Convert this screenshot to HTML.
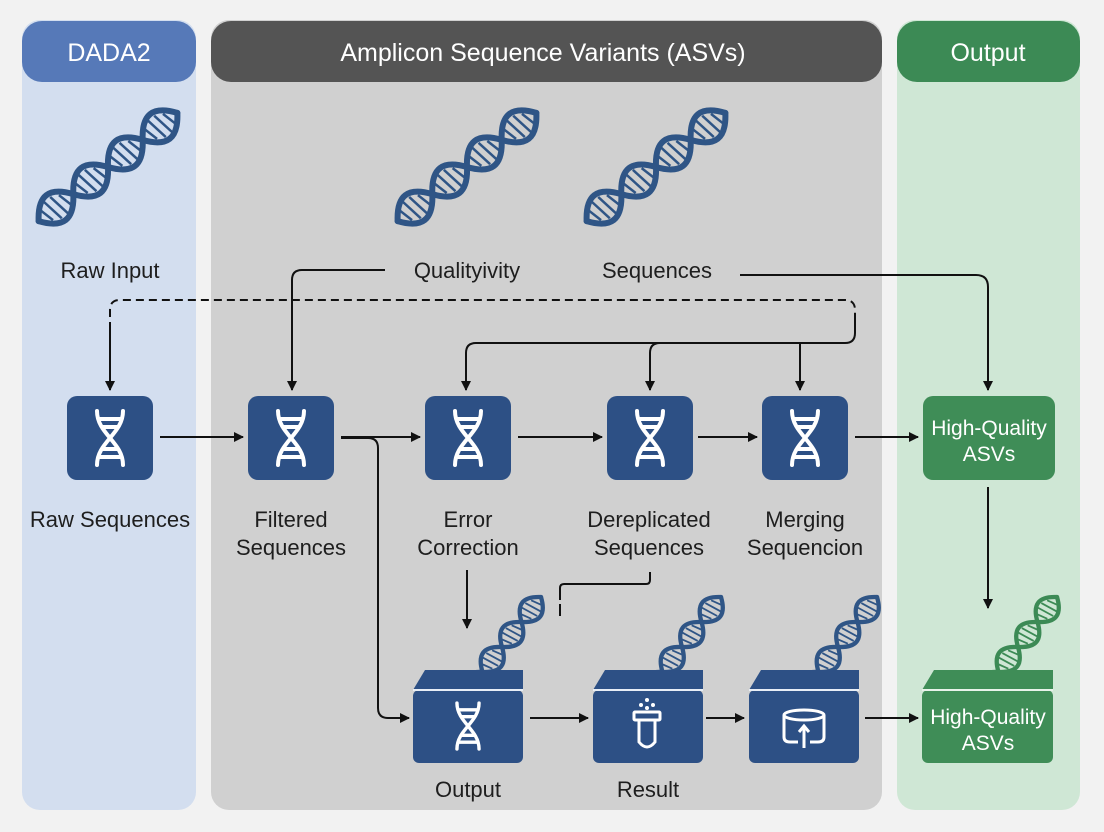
<!DOCTYPE html>
<html><head><meta charset="utf-8"><style>
html,body{margin:0;padding:0;background:#f2f2f2;}
svg{display:block;font-family:"Liberation Sans",sans-serif;}
</style></head><body>
<svg width="1104" height="832" viewBox="0 0 1104 832" xmlns="http://www.w3.org/2000/svg">
<defs>
<g id="helix">
  <g stroke="#2f5586" stroke-width="2.5" fill="none">
    <line x1="-80" y1="-8" x2="-76" y2="8"/><line x1="-72" y1="-12" x2="-68" y2="12"/><line x1="-64" y1="-12" x2="-60" y2="12"/><line x1="-56" y1="-8" x2="-52" y2="8"/>
    <line x1="-36" y1="-8" x2="-32" y2="8"/><line x1="-28" y1="-12" x2="-24" y2="12"/><line x1="-20" y1="-12" x2="-16" y2="12"/><line x1="-12" y1="-8" x2="-8" y2="8"/>
    <line x1="8" y1="-8" x2="12" y2="8"/><line x1="16" y1="-12" x2="20" y2="12"/><line x1="24" y1="-12" x2="28" y2="12"/><line x1="32" y1="-8" x2="36" y2="8"/>
    <line x1="52" y1="-8" x2="56" y2="8"/><line x1="60" y1="-12" x2="64" y2="12"/><line x1="68" y1="-12" x2="72" y2="12"/><line x1="76" y1="-8" x2="80" y2="8"/>
  </g>
  <g stroke="#2f5586" stroke-width="6" fill="none" stroke-linecap="round">
    <path d="M-88,0 C-73,-21 -59,-21 -44,0 C-29,21 -15,21 0,0 C15,-21 29,-21 44,0 C59,21 73,21 88,0"/>
    <path d="M-88,0 C-73,21 -59,21 -44,0 C-29,-21 -15,-21 0,0 C15,21 29,21 44,0 C59,-21 73,-21 88,0"/>
  </g>
</g>
<g id="helixg">
  <g stroke="#3c8a55" stroke-width="2.5" fill="none">
    <line x1="-80" y1="-8" x2="-76" y2="8"/><line x1="-72" y1="-12" x2="-68" y2="12"/><line x1="-64" y1="-12" x2="-60" y2="12"/><line x1="-56" y1="-8" x2="-52" y2="8"/>
    <line x1="-36" y1="-8" x2="-32" y2="8"/><line x1="-28" y1="-12" x2="-24" y2="12"/><line x1="-20" y1="-12" x2="-16" y2="12"/><line x1="-12" y1="-8" x2="-8" y2="8"/>
    <line x1="8" y1="-8" x2="12" y2="8"/><line x1="16" y1="-12" x2="20" y2="12"/><line x1="24" y1="-12" x2="28" y2="12"/><line x1="32" y1="-8" x2="36" y2="8"/>
    <line x1="52" y1="-8" x2="56" y2="8"/><line x1="60" y1="-12" x2="64" y2="12"/><line x1="68" y1="-12" x2="72" y2="12"/><line x1="76" y1="-8" x2="80" y2="8"/>
  </g>
  <g stroke="#3c8a55" stroke-width="6" fill="none" stroke-linecap="round">
    <path d="M-88,0 C-73,-21 -59,-21 -44,0 C-29,21 -15,21 0,0 C15,-21 29,-21 44,0 C59,21 73,21 88,0"/>
    <path d="M-88,0 C-73,21 -59,21 -44,0 C-29,-21 -15,-21 0,0 C15,21 29,21 44,0 C59,-21 73,-21 88,0"/>
  </g>
</g>
<g id="ladder" stroke="#fff" stroke-width="4" fill="none" stroke-linecap="round">
  <path d="M-13,-27 C-13,-4 13,4 13,27"/><path d="M13,-27 C13,-4 -13,4 -13,27"/>
  <line x1="-10" y1="-19" x2="10" y2="-19"/><line x1="-7" y1="-11" x2="7" y2="-11"/>
  <line x1="-7" y1="11" x2="7" y2="11"/><line x1="-10" y1="19" x2="10" y2="19"/>
</g>
<marker id="ah" viewBox="0 0 10 10" refX="9" refY="5" markerWidth="5" markerHeight="5" orient="auto"><path d="M0,0 L10,5 L0,10z" fill="#111"/></marker>
</defs>

<!-- lanes -->
<rect x="22" y="20" width="174" height="790" rx="18" fill="#d3deef"/>
<rect x="211" y="20" width="671" height="790" rx="18" fill="#d0d0d0"/>
<rect x="897" y="20" width="183" height="790" rx="18" fill="#cfe7d5"/>
<rect x="22" y="21" width="174" height="61" rx="20" fill="#5679b8"/>
<rect x="211" y="21" width="671" height="61" rx="20" fill="#545454"/>
<rect x="897" y="21" width="183" height="61" rx="20" fill="#3c8a55"/>
<g fill="#fff" font-size="25" text-anchor="middle">
<text x="109" y="61">DADA2</text>
<text x="543" y="61">Amplicon Sequence Variants (ASVs)</text>
<text x="988" y="61">Output</text>
</g>

<!-- top helices -->
<use href="#helix" transform="translate(108,167) rotate(-38)"/>
<use href="#helix" transform="translate(467,167) rotate(-38)"/>
<use href="#helix" transform="translate(656,167) rotate(-38)"/>

<g fill="#1e1e1e" font-size="22" text-anchor="middle">
<text x="110" y="278">Raw Input</text>
<text x="467" y="278">Qualityivity</text>
<text x="657" y="278">Sequences</text>
<text x="110" y="527">Raw Sequences</text>
<text x="291" y="527">Filtered</text><text x="291" y="555">Sequences</text>
<text x="468" y="527">Error</text><text x="468" y="555">Correction</text>
<text x="649" y="527">Dereplicated</text><text x="649" y="555">Sequences</text>
<text x="805" y="527">Merging</text><text x="805" y="555">Sequencion</text>
<text x="468" y="797">Output</text>
<text x="648" y="797">Result</text>
</g>

<!-- connectors -->
<g stroke="#111" stroke-width="2" fill="none">
<path d="M110,330 L110,310 Q110,300 120,300 L845,300 Q855,300 855,310 L855,322" stroke-dasharray="8,5"/>
<path d="M110,330 L110,390" marker-end="url(#ah)"/>
<path d="M385,270 L302,270 Q292,270 292,280 L292,390" marker-end="url(#ah)"/>
<path d="M855,320 L855,333 Q855,343 845,343 L476,343 Q466,343 466,353 L466,390" marker-end="url(#ah)"/>
<path d="M800,343 L800,390" marker-end="url(#ah)"/>
<path d="M660,343 Q650,343 650,353 L650,390" marker-end="url(#ah)"/>
<path d="M740,275 L976,275 Q988,275 988,287 L988,390" marker-end="url(#ah)"/>
<path d="M160,437 L243,437" marker-end="url(#ah)"/>
<path d="M341,437 L420,437" marker-end="url(#ah)"/>
<path d="M341,438 L368,438 Q378,438 378,448 L378,708 Q378,718 388,718 L409,718" marker-end="url(#ah)"/>
<path d="M518,437 L602,437" marker-end="url(#ah)"/>
<path d="M698,437 L757,437" marker-end="url(#ah)"/>
<path d="M855,437 L918,437" marker-end="url(#ah)"/>
<path d="M988,487 L988,608" marker-end="url(#ah)"/>
<path d="M467,570 L467,628" marker-end="url(#ah)"/>
<path d="M650,572 L650,580 Q650,584 646,584 L564,584 Q560,584 560,588 L560,600"/>
<path d="M560,604 L560,616" />
<path d="M530,718 L588,718" marker-end="url(#ah)"/>
<path d="M706,718 L744,718" marker-end="url(#ah)"/>
<path d="M865,718 L918,718" marker-end="url(#ah)"/>
</g>

<!-- top nodes -->
<g fill="#2d5085">
<rect x="67" y="396" width="86" height="84" rx="10"/>
<rect x="248" y="396" width="86" height="84" rx="10"/>
<rect x="425" y="396" width="86" height="84" rx="10"/>
<rect x="607" y="396" width="86" height="84" rx="10"/>
<rect x="762" y="396" width="86" height="84" rx="10"/>
</g>
<use href="#ladder" x="110" y="438"/>
<use href="#ladder" x="291" y="438"/>
<use href="#ladder" x="468" y="438"/>
<use href="#ladder" x="650" y="438"/>
<use href="#ladder" x="805" y="438"/>
<rect x="923" y="396" width="132" height="84" rx="10" fill="#3f8d57"/>
<g fill="#fff" font-size="21" text-anchor="middle">
<text x="989" y="435">High-Quality</text><text x="989" y="461">ASVs</text>
</g>

<!-- bottom boxes -->
<use href="#helix" transform="translate(502,647) rotate(-52) scale(0.72)"/>
<use href="#helix" transform="translate(682,647) rotate(-52) scale(0.72)"/>
<use href="#helix" transform="translate(838,647) rotate(-52) scale(0.72)"/>
<use href="#helixg" transform="translate(1018,647) rotate(-52) scale(0.72)"/>
<g fill="#2d5085">
<path d="M413,690 L425,670 L523,670 L523,690 Z"/>
<rect x="413" y="690" width="110" height="73" rx="6"/>
<path d="M593,690 L605,670 L703,670 L703,690 Z"/>
<rect x="593" y="690" width="110" height="73" rx="6"/>
<path d="M749,690 L761,670 L859,670 L859,690 Z"/>
<rect x="749" y="690" width="110" height="73" rx="6"/>
</g>
<g stroke="#e8eef6" stroke-width="2">
<line x1="413" y1="690" x2="523" y2="690"/>
<line x1="593" y1="690" x2="703" y2="690"/>
<line x1="749" y1="690" x2="859" y2="690"/>
</g>
<use href="#ladder" transform="translate(468,726) scale(0.85)"/>
<g stroke="#fff" stroke-width="3" fill="none">
<rect x="634" y="712" width="26" height="8" rx="1"/>
<path d="M639,720 L639,742 Q647,752 655,742 L655,720"/>
</g>
<g fill="#fff"><circle cx="647" cy="700" r="2"/><circle cx="641" cy="705" r="2"/><circle cx="653" cy="705" r="2"/><circle cx="647" cy="708" r="2"/></g>
<g stroke="#fff" stroke-width="3" fill="none">
<ellipse cx="804" cy="715" rx="20" ry="5"/>
<path d="M784,715 L784,737 Q784,742 790,742 L798,742 M810,742 L818,742 Q824,742 824,737 L824,715"/>
<path d="M804,748 L804,727 M799,732 L804,726 L809,732"/>
</g>

<path d="M922,690 L934,670 L1053,670 L1053,690 Z" fill="#3f8d57"/>
<rect x="922" y="690" width="131" height="73" rx="6" fill="#3f8d57"/>
<line x1="922" y1="690" x2="1053" y2="690" stroke="#e8f3ea" stroke-width="2"/>
<g fill="#fff" font-size="21" text-anchor="middle">
<text x="988" y="724">High-Quality</text><text x="988" y="750">ASVs</text>
</g>
</svg>
</body></html>
